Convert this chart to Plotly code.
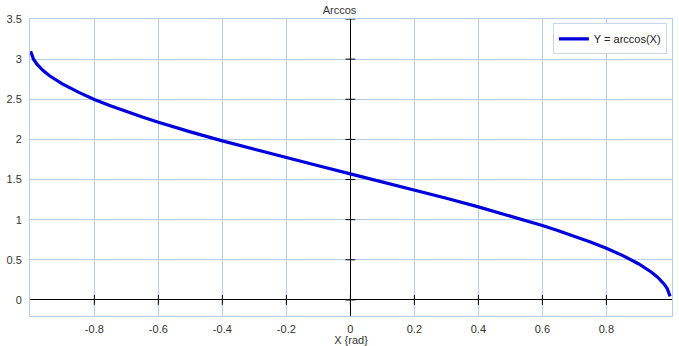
import plotly.graph_objects as go

# Data (Y = arccos(X))
x_vals = [-0.999, -0.995, -0.99, -0.98, -0.96, -0.94, -0.92, -0.9, -0.85, -0.8, -0.75, -0.7,
          -0.65, -0.6, -0.55, -0.5, -0.4, -0.3, -0.2, -0.1, 0.0, 0.1, 0.2, 0.3, 0.4, 0.5,
          0.55, 0.6, 0.65, 0.7, 0.75, 0.8, 0.85, 0.9, 0.92, 0.94, 0.96, 0.98, 0.99, 0.995, 0.999]
y_vals = [3.097, 3.042, 3.000, 2.941, 2.858, 2.793, 2.739, 2.691, 2.589, 2.498, 2.419, 2.346,
          2.278, 2.214, 2.153, 2.094, 1.982, 1.876, 1.772, 1.671, 1.571, 1.471, 1.369, 1.266,
          1.159, 1.047, 0.988, 0.927, 0.863, 0.795, 0.723, 0.644, 0.555, 0.451, 0.403, 0.348,
          0.284, 0.200, 0.142, 0.100, 0.045]

x_ticks = [-0.8, -0.6, -0.4, -0.2, 0, 0.2, 0.4, 0.6, 0.8]
x_tick_text = ["-0.8", "-0.6", "-0.4", "-0.2", "0", "0.2", "0.4", "0.6", "0.8"]
y_ticks = [0, 0.5, 1, 1.5, 2, 2.5, 3, 3.5]
y_tick_text = ["0", "0.5", "1", "1.5", "2", "2.5", "3", "3.5"]

title_text = "Arccos"
x_title = "X {rad}"
series_name = "Y = arccos(X)"

grid_col = "#b4cde8"
line_col = "#0000dd"
font = "Liberation Sans, Arial, sans-serif"

fig = go.Figure()

# tick marks crossing the zero lines
fig.add_trace(go.Scatter(
    x=x_ticks, y=[0] * len(x_ticks), mode="markers",
    marker=dict(symbol="line-ns", size=7, line=dict(color="black", width=1)),
    showlegend=False, hoverinfo="skip"))
fig.add_trace(go.Scatter(
    x=[0] * len(y_ticks), y=y_ticks, mode="markers",
    marker=dict(symbol="line-ew", size=7, line=dict(color="black", width=1)),
    showlegend=False, hoverinfo="skip"))

fig.add_trace(go.Scatter(
    x=x_vals, y=y_vals, mode="lines", name=series_name,
    line=dict(color=line_col, width=3.2), showlegend=True))

fig.update_layout(
    width=679, height=346,
    margin=dict(l=30, r=7, t=19, b=30, autoexpand=False),
    paper_bgcolor="white", plot_bgcolor="white",
    font=dict(family=font, size=11, color="#333333"),
    title=dict(text=title_text, x=0.5, xanchor="center", y=0.983, yanchor="top",
               yref="container", pad=dict(t=0), font=dict(size=11, color="#333333")),
    showlegend=True,
    legend=dict(x=0.992, xanchor="right", y=0.985, yanchor="top",
                bgcolor="white", bordercolor="#c8d8ea", borderwidth=1,
                itemwidth=30, font=dict(size=11, color="#222222"),
                tracegroupgap=0),
)

fig.update_xaxes(
    range=[-1.001, 1.005], tickmode="array", tickvals=x_ticks, ticktext=x_tick_text,
    showgrid=True, gridcolor=grid_col, gridwidth=1,
    zeroline=True, zerolinecolor="black", zerolinewidth=1,
    showline=True, linecolor=grid_col, linewidth=1, mirror=True,
    ticks="", ticklabelstandoff=3, automargin=False,
    title=dict(text=x_title, standoff=3, font=dict(size=11)),
)
fig.update_yaxes(
    range=[-0.2, 3.5], tickmode="array", tickvals=y_ticks, ticktext=y_tick_text,
    showgrid=True, gridcolor=grid_col, gridwidth=1,
    zeroline=True, zerolinecolor="black", zerolinewidth=1,
    showline=True, linecolor=grid_col, linewidth=1, mirror=True,
    ticks="", ticklabelstandoff=5, automargin=False,
)

fig.write_html("out.html")
